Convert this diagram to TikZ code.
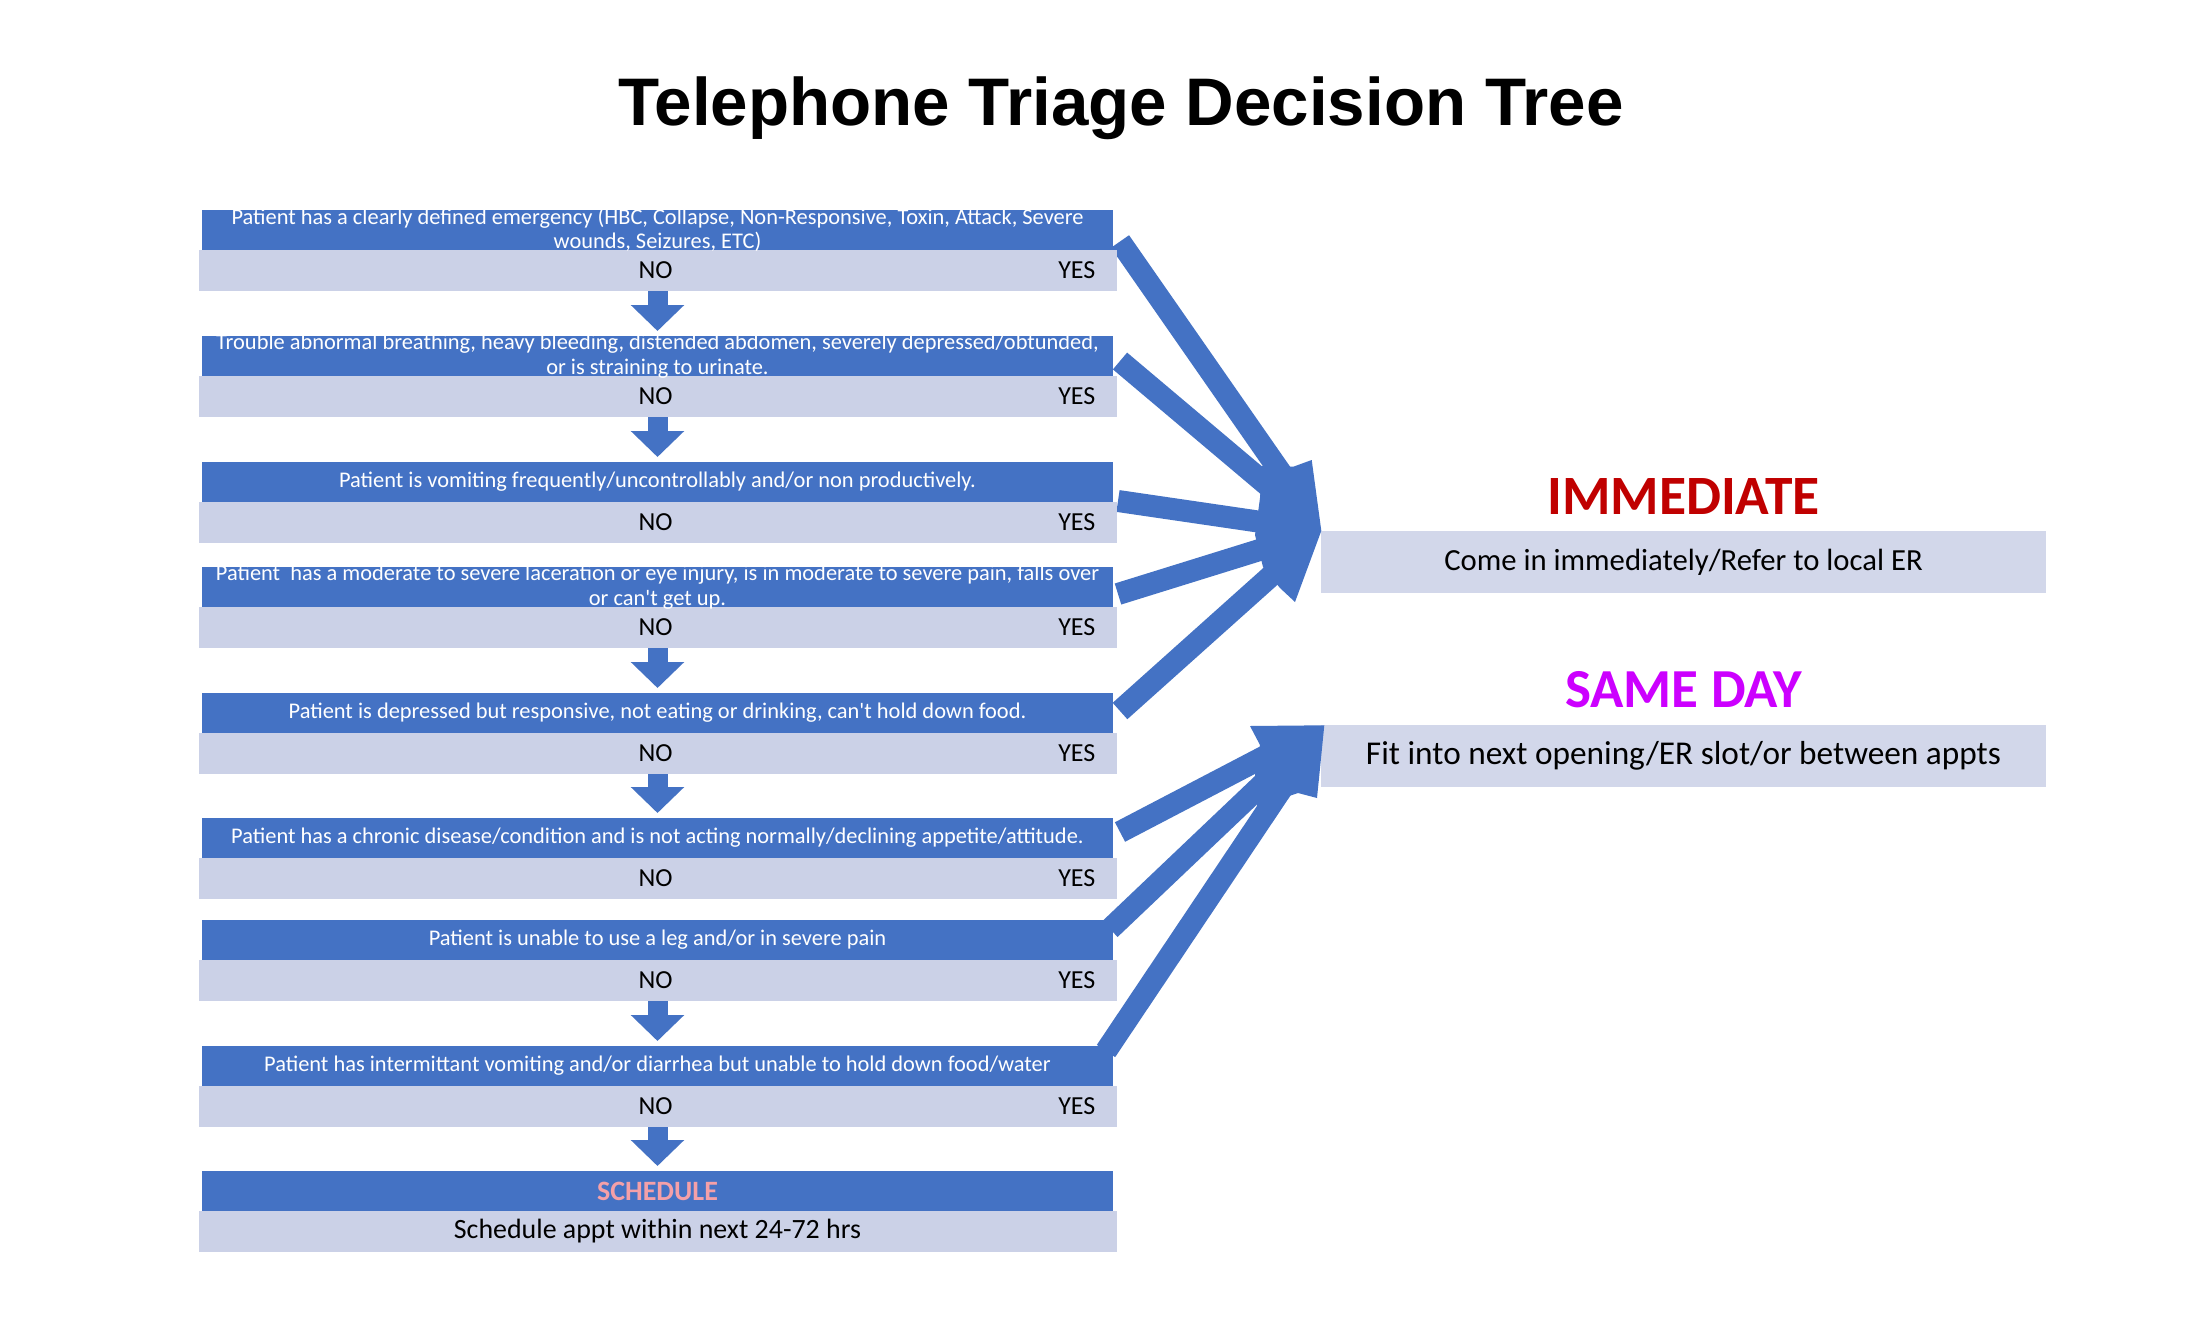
\documentclass[tikz,border=0pt]{standalone}
\usepackage{fontspec}
\setmainfont{Carlito}
\newfontfamily\titlefont{Liberation Sans}
\usetikzlibrary{arrows.meta,calc}
\definecolor{dblue}{HTML}{4472C4}
\definecolor{lblue}{HTML}{CBD1E7}
\definecolor{rlblue}{HTML}{D2D7EA}
\definecolor{immred}{HTML}{C00000}
\definecolor{samemag}{HTML}{CC00FF}
\definecolor{schedpink}{HTML}{F4A0A8}
\begin{document}
\begin{tikzpicture}[x=1pt,y=-1pt,
  qdark/.style={rectangle, fill=dblue, minimum width=911pt, minimum height=40pt, inner sep=0pt, outer sep=0pt},
  qlight/.style={rectangle, fill=lblue, minimum width=918pt, minimum height=41pt, inner sep=0pt, outer sep=0pt, anchor=north},
  qtext/.style={text=white, font=\fontsize{22.4}{24.5}\selectfont, align=center, inner sep=0pt},
  ans/.style={text=black, font=\fontsize{26}{30}\selectfont, inner sep=0pt},
  downarr/.style={draw=dblue, line width=20pt, shorten >=5pt, -{Triangle[width=52pt,length=26pt]}},
  shaft/.style={draw=dblue, line width=22pt, shorten >=25pt},
  headblob/.style={fill=dblue},
  resbox/.style={rectangle, fill=rlblue, minimum width=725pt, minimum height=62pt, inner sep=0pt},
  reshead/.style={font=\fontsize{55.5}{62}\selectfont\bfseries, inner sep=0pt}
]
\fill[white] (0,0) rectangle (2200,1325);
\useasboundingbox (0,0) rectangle (2200,1325);

% title
\node[anchor=base, inner sep=0pt, font=\titlefont\fontsize{67.3}{76}\selectfont\bfseries] (title) at (1121,125) {Telephone Triage Decision Tree};

% centres of the dark boxes
\coordinate (c1) at (657.5,230);
\coordinate (c2) at (657.5,356);
\coordinate (c3) at (657.5,482);
\coordinate (c4) at (657.5,587);
\coordinate (c5) at (657.5,713);
\coordinate (c6) at (657.5,838);
\coordinate (c7) at (657.5,940);
\coordinate (c8) at (657.5,1066);
\coordinate (c9) at (657.5,1191);

% result boxes
\node[resbox, font=\fontsize{30.7}{34}\selectfont] (imm) at (1683.5,562) {Come in immediately/Refer to local ER};
\node[reshead, text=immred] (immh) at (1683.5,496) {IMMEDIATE};
\node[resbox, font=\fontsize{33.3}{38}\selectfont] (same) at (1683.5,755.5) {Fit into next opening/ER slot/or between appts};
\node[reshead, font=\fontsize{55}{62}\selectfont\bfseries, text=samemag] (sameh) at (1683.5,690) {SAME DAY};

% arrow tips (targets)
\coordinate (immtip) at ([xshift=0.5pt]imm.north west);
\coordinate (sametip) at ([xshift=3.5pt,yshift=-1pt]same.north west);

% placeholders for the box edges
\foreach \i in {1,...,8} {
  \path (c\i) node[qdark, fill=none] (p\i) {};
}

% shafts behind the boxes
\draw[shaft] ([xshift=7pt,yshift=-11.5pt]p1.east) -- (immtip);
\draw[shaft] ([xshift=7pt,yshift=-5pt]p2.east) -- (immtip);
\draw[shaft] ([xshift=5pt,yshift=-19pt]p3.east) -- (immtip);
\draw[shaft] ([xshift=5pt,yshift=-7pt]p4.east) -- (immtip);
\draw[shaft] ([xshift=7pt,yshift=2pt]p5.east) -- (immtip);
\draw[shaft] ([xshift=7pt,yshift=6pt]p6.east) -- (sametip);

% merged arrow heads
\fill[headblob] (immtip) -- (1311.7,460) -- (1293.3,466.7) -- (1262,466) -- (1260,498) -- (1255,535) -- (1263,567) -- (1280,588) -- (1295,602) -- cycle;
\fill[headblob] (sametip) -- (1317,798) -- (1298,793) -- (1257,807) -- (1255,775) -- (1260,745) -- (1250,726) -- cycle;

% question boxes
\foreach \i in {1,...,9} {
  \node[qdark] (d\i) at (c\i) {};
  \node[qlight] (l\i) at (d\i.south) {};
}

% question texts
\node[qtext] (q1) at (d1.center) {Patient has a clearly defined emergency (HBC, Collapse, Non-Responsive, Toxin, Attack, Severe\\wounds, Seizures, ETC)};
\node[qtext] (q2) at (d2.center) {Trouble abnormal breathing, heavy bleeding, distended abdomen, severely depressed/obtunded,\\or is straining to urinate.};
\node[qtext] (q3) at (d3.center) {Patient is vomiting frequently/uncontrollably and/or non productively.};
\node[qtext] (q4) at (d4.center) {Patient~ has a moderate to severe laceration or eye injury, is in moderate to severe pain, falls over\\or can\textquotesingle t get up.};
\node[qtext] (q5) at (d5.center) {Patient is depressed but responsive, not eating or drinking, can\textquotesingle t hold down food.};
\node[qtext] (q6) at (d6.center) {Patient has a chronic disease/condition and is not acting normally/declining appetite/attitude.};
\node[qtext] (q7) at (d7.center) {Patient is unable to use a leg and/or in severe pain};
\node[qtext] (q8) at (d8.center) {Patient has intermittant vomiting and/or diarrhea but unable to hold down food/water};
\node[qtext, text=schedpink, font=\fontsize{28}{32}\selectfont\bfseries] (q9) at (d9.center) {SCHEDULE};
\node[ans, font=\fontsize{27.9}{32}\selectfont] (s9) at (l9.center) {Schedule appt within next 24-72 hrs};

% answers
\foreach \i in {1,...,8} {
  \node[ans] (n\i) at ([xshift=-2pt]l\i.center) {NO};
  \node[ans, anchor=east] (y\i) at ([xshift=-21pt]l\i.east) {YES};
}

% down arrows
\draw[downarr] (l1.south) -- (d2.north);
\draw[downarr] (l2.south) -- (d3.north);
\draw[downarr] (l4.south) -- (d5.north);
\draw[downarr] (l5.south) -- (d6.north);
\draw[downarr] (l7.south) -- (d8.north);
\draw[downarr] (l8.south) -- (d9.north);

% shafts in front of the boxes
\draw[shaft] ([xshift=-3pt,yshift=11pt]d7.east) -- (sametip);
\draw[shaft] ([xshift=-7pt,yshift=15pt]d8.east) -- (sametip);
\end{tikzpicture}
\end{document}
